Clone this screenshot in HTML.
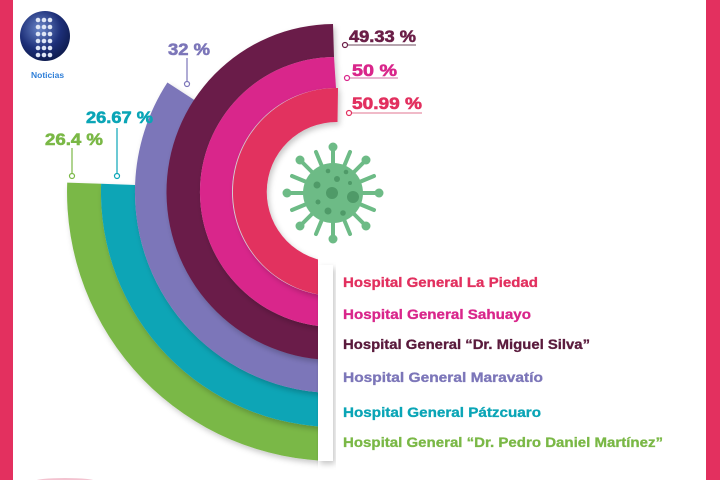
<!DOCTYPE html>
<html><head><meta charset="utf-8"><style>
html,body{margin:0;padding:0;background:#fff}
svg{display:block}
text{font-family:"Liberation Sans",sans-serif;font-weight:bold}
</style></head><body>
<svg width="720" height="480" viewBox="0 0 720 480" xmlns="http://www.w3.org/2000/svg">
<defs>
<filter id="sh" x="-10%" y="-10%" width="130%" height="130%">
<feDropShadow dx="2" dy="3" stdDeviation="3" flood-color="#000" flood-opacity="0.22"/>
</filter>
<clipPath id="cp"><polygon points="0,0 720,0 720,192 318,192 318,480 0,480"/></clipPath>
<radialGradient id="gl" cx="40%" cy="35%" r="70%">
<stop offset="0" stop-color="#6a86c8"/><stop offset="0.6" stop-color="#1d2f78"/><stop offset="1" stop-color="#0d1a4a"/>
</radialGradient>
</defs>
<rect width="720" height="480" fill="#fff"/>
<rect x="0" y="0" width="13" height="480" fill="#e3305f"/>
<rect x="706" y="0" width="14" height="480" fill="#e3305f"/>
<ellipse cx="65" cy="481" rx="30" ry="3" fill="#f3c3d0"/>

<!-- logo -->
<circle cx="45" cy="36" r="25" fill="url(#gl)"/>
<g fill="#dfe6f5">
<circle cx="38" cy="20" r="2.3"/><circle cx="44" cy="20" r="2.3"/><circle cx="50" cy="20" r="2.3"/>
<circle cx="38" cy="27" r="2.3"/><circle cx="44" cy="27" r="2.3"/><circle cx="50" cy="27" r="2.3"/>
<circle cx="38" cy="34" r="2.3"/><circle cx="44" cy="34" r="2.3"/><circle cx="50" cy="34" r="2.3"/>
<circle cx="38" cy="41" r="2.3"/><circle cx="44" cy="41" r="2.3"/><circle cx="50" cy="41" r="2.3"/>
<circle cx="38" cy="48" r="2.3"/><circle cx="44" cy="48" r="2.3"/><circle cx="50" cy="48" r="2.3"/>
<circle cx="38" cy="55" r="2.3"/><circle cx="44" cy="55" r="2.3"/><circle cx="50" cy="55" r="2.3"/>
</g>
<text x="31" y="78" font-size="8.5" fill="#2f7fd8">Noticias</text>

<!-- bands -->
<g clip-path="url(#cp)">
<path filter="url(#sh)" fill="#7ab846" d="M336,461 A269 269 0 0 1 67.2,182.6 L101.1,183.8 A235 235 0 0 0 336,427 Z"/>
<path filter="url(#sh)" fill="#0aa5b6" d="M336,427 A235 235 0 0 1 101.1,183.8 L135.1,185 A201 201 0 0 0 336,393 Z"/>
<path filter="url(#sh)" fill="#7c76b9" d="M336,393 A201 201 0 0 1 167.4,82.5 L195.1,100.5 A168 168 0 0 0 336,360 Z"/>
<path filter="url(#sh)" fill="#6b1f48" d="M336,360 A168 168 0 1 1 333,24 L334,57 A135 135 0 1 0 336,327 Z"/>
<path filter="url(#sh)" fill="#d9268b" d="M336,327 A135 135 0 1 1 334,57 L336,88 A104 104 0 1 0 336,296 Z"/>
<path filter="url(#sh)" fill="#e2305f" d="M336,296 A104 104 0 1 1 338,88 L337.5,122 A70 70 0 1 0 336,262 Z"/>
</g>

<!-- label strip -->
<g filter="url(#sh)" fill="#fff">
<rect x="318" y="265" width="15" height="32"/>
<rect x="318" y="297" width="15" height="31"/>
<rect x="318" y="328" width="15" height="32"/>
<rect x="318" y="360" width="15" height="33"/>
<rect x="318" y="393" width="15" height="34"/>
<rect x="318" y="427" width="15" height="34"/>
</g>

<!-- virus -->
<g fill="#6dbb86" stroke="#6dbb86" stroke-linecap="round">
<g stroke-width="4">
<line x1="333" y1="193" x2="333" y2="148"/><line x1="333" y1="193" x2="333" y2="238"/>
<line x1="333" y1="193" x2="288" y2="193"/><line x1="333" y1="193" x2="378" y2="193"/>
<line x1="333" y1="193" x2="301" y2="161"/><line x1="333" y1="193" x2="365" y2="161"/>
<line x1="333" y1="193" x2="301" y2="225"/><line x1="333" y1="193" x2="365" y2="225"/>
<line x1="333" y1="193" x2="316" y2="152"/><line x1="333" y1="193" x2="350" y2="152"/>
<line x1="333" y1="193" x2="316" y2="234"/><line x1="333" y1="193" x2="350" y2="234"/>
<line x1="333" y1="193" x2="292" y2="176"/><line x1="333" y1="193" x2="374" y2="176"/>
<line x1="333" y1="193" x2="292" y2="210"/><line x1="333" y1="193" x2="374" y2="210"/>
</g>
<circle cx="333" cy="193" r="30" stroke="none"/>
<g stroke="none">
<circle cx="333" cy="147" r="4.5"/><circle cx="333" cy="239" r="4.5"/><circle cx="287" cy="193" r="4.5"/><circle cx="379" cy="193" r="4.5"/>
<circle cx="300" cy="160" r="4.5"/><circle cx="366" cy="160" r="4.5"/><circle cx="300" cy="226" r="4.5"/><circle cx="366" cy="226" r="4.5"/>
</g>
</g>
<g fill="#4f9a68">
<circle cx="332" cy="193" r="6"/><circle cx="353" cy="197" r="6"/><circle cx="317" cy="185" r="3.5"/>
<circle cx="337" cy="179" r="3"/><circle cx="328" cy="171" r="2.3"/><circle cx="346" cy="172" r="2.3"/>
<circle cx="318" cy="202" r="2.5"/><circle cx="328" cy="211" r="3.5"/><circle cx="343" cy="213" r="2.8"/><circle cx="350" cy="183" r="2"/>
</g>

<!-- top percent labels -->
<g fill="none" stroke-width="1.2">
<line x1="348" y1="45" x2="416" y2="45" stroke="#8a6e7e"/><circle cx="345" cy="45" r="2.5" stroke="#6b1f48" fill="#fff"/>
<line x1="350" y1="78" x2="398" y2="78" stroke="#d98cb6"/><circle cx="347" cy="78" r="2.5" stroke="#d9268b" fill="#fff"/>
<line x1="352" y1="113" x2="422" y2="113" stroke="#e791a8"/><circle cx="349" cy="113" r="2.5" stroke="#e2305f" fill="#fff"/>
</g>
<g stroke-width="0.6">
<text x="349" y="42" font-size="17" fill="#6b1f48" stroke="#6b1f48" textLength="67" lengthAdjust="spacingAndGlyphs">49.33 %</text>
<text x="352" y="76" font-size="17" fill="#d9268b" stroke="#d9268b" textLength="45" lengthAdjust="spacingAndGlyphs">50 %</text>
<text x="352" y="109" font-size="17" fill="#e2305f" stroke="#e2305f" textLength="70" lengthAdjust="spacingAndGlyphs">50.99 %</text>
</g>

<!-- left percent labels -->
<g stroke-width="1.2" fill="#fff">
<line x1="187" y1="58" x2="187" y2="82" stroke="#7c76b9"/><circle cx="187" cy="84" r="2.5" stroke="#7c76b9"/>
<line x1="117" y1="128" x2="117" y2="174" stroke="#0aa5b6"/><circle cx="117" cy="176" r="2.5" stroke="#0aa5b6"/>
<line x1="72" y1="148" x2="72" y2="174" stroke="#7ab846"/><circle cx="72" cy="176" r="2.5" stroke="#7ab846"/>
</g>
<g stroke-width="0.6">
<text x="168" y="55" font-size="17" fill="#7c76b9" stroke="#7c76b9" textLength="42" lengthAdjust="spacingAndGlyphs">32 %</text>
<text x="86" y="123" font-size="17" fill="#0aa5b6" stroke="#0aa5b6" textLength="67" lengthAdjust="spacingAndGlyphs">26.67 %</text>
<text x="45" y="145" font-size="17" fill="#7ab846" stroke="#7ab846" textLength="58" lengthAdjust="spacingAndGlyphs">26.4 %</text>
</g>

<!-- hospital labels -->
<g stroke-width="0.3">
<text x="343" y="287" font-size="13.5" fill="#e2305f" stroke="#e2305f" textLength="195" lengthAdjust="spacingAndGlyphs">Hospital General La Piedad</text>
<text x="343" y="319" font-size="13.5" fill="#d9268b" stroke="#d9268b" textLength="188" lengthAdjust="spacingAndGlyphs">Hospital General Sahuayo</text>
<text x="343" y="349" font-size="13.5" fill="#5a1a3c" stroke="#5a1a3c" textLength="247" lengthAdjust="spacingAndGlyphs">Hospital General “Dr. Miguel Silva”</text>
<text x="343" y="382" font-size="13.5" fill="#7c76b9" stroke="#7c76b9" textLength="200" lengthAdjust="spacingAndGlyphs">Hospital General Maravatío</text>
<text x="343" y="417" font-size="13.5" fill="#0aa5b6" stroke="#0aa5b6" textLength="198" lengthAdjust="spacingAndGlyphs">Hospital General Pátzcuaro</text>
<text x="343" y="447" font-size="13.5" fill="#7ab846" stroke="#7ab846" textLength="320" lengthAdjust="spacingAndGlyphs">Hospital General “Dr. Pedro Daniel Martínez”</text>
</g>
</svg>
</body></html>
